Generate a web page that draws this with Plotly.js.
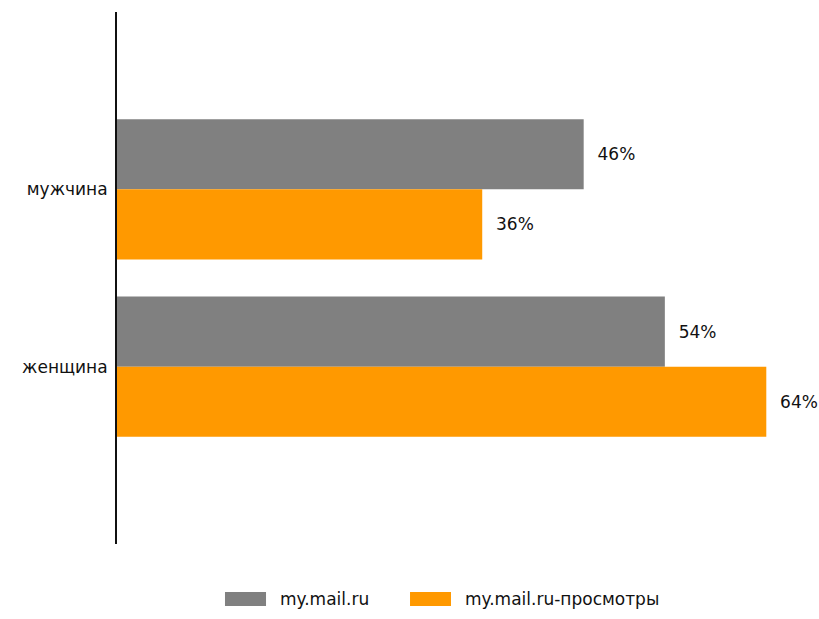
<!DOCTYPE html>
<html>
<head>
<meta charset="utf-8">
<script src="https://cdn.plot.ly/plotly-3.0.1.min.js"></script>
<style>html,body{margin:0;padding:0;background:#fff;}#chart{width:819px;height:619px;}</style>
</head>
<body>
<div id="chart"></div>
<script>
const categories = ['мужчина', 'женщина'];
const seriesNames = ['my.mail.ru', 'my.mail.ru-просмотры'];
const seriesMail = [46, 54];
const seriesViews = [36, 64];
const colors = ['#808080', '#FF9900'];

const FONT = 'DejaVu Sans, sans-serif';
const pad = '\u00a0\u00a0';

const traces = [seriesMail, seriesViews].map((vals, i) => ({
  type: 'bar',
  orientation: 'h',
  name: seriesNames[i],
  x: vals,
  y: categories,
  marker: {color: colors[i], line: {width: 0}},
  text: vals.map(v => pad + v + '%'),
  textposition: 'outside',
  cliponaxis: false,
  textfont: {family: FONT, size: 17, color: '#111'},
  hoverinfo: 'skip'
}));

// custom legend (wide swatches like the original)
const legendShapes = [];
const legendAnn = [];
const swatchX = [[0.1547, 0.2135], [0.4198, 0.4785]];
const textX = [0.2307, 0.4957];
seriesNames.forEach((n, i) => {
  legendShapes.push({type: 'rect', xref: 'paper', yref: 'paper',
    x0: swatchX[i][0], x1: swatchX[i][1], y0: -0.0902, y1: -0.1165,
    fillcolor: colors[i], line: {width: 0}});
  legendAnn.push({xref: 'paper', yref: 'paper', x: textX[i], y: -0.1034,
    xanchor: 'left', yanchor: 'middle', showarrow: false, text: n,
    font: {family: FONT, size: 17, color: '#111'}});
});

const layout = {
  width: 819, height: 619,
  margin: {l: 117, r: 4, t: 12, b: 75},
  paper_bgcolor: '#fff', plot_bgcolor: '#fff',
  barmode: 'group',
  bargap: 0.21,
  bargroupgap: 0,
  showlegend: false,
  xaxis: {range: [0, 68.8], visible: false, showgrid: false, zeroline: false, fixedrange: true},
  yaxis: {type: 'category', categoryarray: categories, range: [2, -1],
    showline: true, linecolor: '#111', linewidth: 2, showgrid: false, zeroline: false,
    ticks: '', ticklabelstandoff: 4,
    tickfont: {family: FONT, size: 17, color: '#111'}},
  shapes: legendShapes,
  annotations: legendAnn
};

Plotly.newPlot('chart', traces, layout, {displayModeBar: false, staticPlot: true});
</script>
</body>
</html>
